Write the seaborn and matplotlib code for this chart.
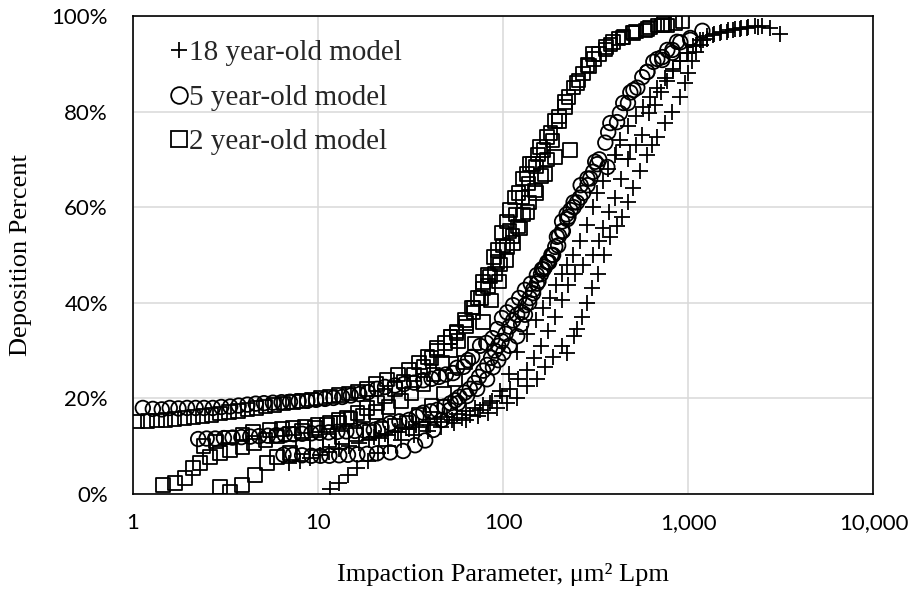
import matplotlib
matplotlib.use("Agg")
import matplotlib.pyplot as plt
import numpy as np
import pandas as pd
import seaborn as sns
from matplotlib.ticker import FuncFormatter, FixedLocator
from matplotlib.lines import Line2D

series_names = ["18 year-old model", "5 year-old model", "2 year-old model"]
x_ticks = [1, 10, 100, 1000, 10000]
y_ticks = [0, 20, 40, 60, 80, 100]

# ---------------- 18 year-old model (+) ----------------
p18_x = [7, 8, 9, 10.2, 11.5, 13, 14.7, 16.6, 18.8, 21.3,
         24, 27, 31, 35, 40, 46, 53, 60, 66, 75,
         85, 96, 107, 119, 134, 150, 165, 179, 194, 208,
         222, 239, 260, 285, 305, 322, 345, 369, 400, 427,
         470, 520, 570, 620, 680, 750, 830, 900, 1000, 1100, 1200,
         20, 23, 26, 30, 34, 39, 44, 50, 56, 63,
         70, 78, 87, 98, 109, 120, 134, 147, 160, 175,
         190, 208, 225, 245, 270, 306, 328, 346, 372, 400,
         435, 472, 520, 564, 610, 660, 710, 770, 830, 900,
         980, 1060, 1150, 1260, 1380, 1500, 1640, 1780, 1930, 2100, 2300, 2500,
         11.6, 13, 14.5, 16.3, 18.5, 21, 24, 28, 33, 39,
         46, 54, 63, 73, 83, 93, 105, 119, 134, 152,
         169, 186, 208, 222, 240, 251, 268, 285, 300, 324,
         350, 379, 410, 438, 470, 505, 550, 600, 640, 680,
         750, 820, 905, 960, 1000, 1050, 1100, 1170, 1261, 1365,
         1489, 1625, 1750, 1910, 2084, 2390, 2775, 3142]
p18_y = [6.5, 7, 7.6, 8.2, 8.8, 9.4, 10, 10.6, 11.2, 11.8,
         12.4, 13, 13.5, 14, 14.5, 15, 15.5, 16, 16.5, 17.5,
         19, 21.5, 25, 29.7, 33.5, 36.5, 39, 41, 43.7, 46,
         48, 50, 53, 56.3, 60, 63, 65.5, 68, 71, 74,
         77, 79, 81, 83, 85, 87, 89, 90.5, 92.3, 94, 95,
         12, 12.6, 13.2, 13.8, 14.4, 15, 15.6, 16.2, 16.8, 17.4,
         18, 18.6, 19.5, 20.5, 22, 24, 26, 28.5, 31, 34,
         37, 40.5, 43.7, 46, 48, 50, 53, 55.6, 59, 62,
         66, 70, 73, 75, 79.7, 81.4, 84, 86.5, 88.5, 90.5,
         92.3, 93.8, 95, 95.8, 96.3, 96.6, 97, 97.3, 97.5, 97.8, 98, 97.9,
         1, 2.3, 4, 5.5, 7, 8.5, 10, 11.3, 12.3, 13.2,
         14, 14.8, 15.5, 16.3, 17, 18, 19, 20, 22.5, 24,
         26.6, 28.7, 31, 29.5, 33, 34.5, 37, 40, 43, 46,
         50, 53.8, 56, 58, 61, 64, 67.5, 71, 73, 74.7,
         77.6, 80, 83, 86, 88, 90.5, 92.5, 94, 95.2, 96,
         96.4, 96.7, 97, 97.2, 97.4, 97.6, 97.5, 96.2]

# ---------------- 5 year-old model (o) ----------------
p5_x = [1.13, 1.28, 1.43, 1.58, 1.76, 1.96, 2.18, 2.42, 2.7, 3.0,
        3.35, 3.72, 4.15, 4.6, 5.1, 5.7, 6.35, 7.05, 7.85, 8.75,
        9.75, 10.9, 12.1, 13.5, 15, 16.7, 18.6, 20.8, 23, 26,
        29, 33, 37, 41, 45, 49, 53.6, 56.3, 61, 64.5,
        68, 75, 81, 87.5, 93, 98.5, 105, 113, 122, 131,
        141, 152, 162, 173, 182, 191, 200, 208, 220, 231,
        250, 270, 295, 322, 356, 412, 472, 530, 600, 647,
        723, 820, 905, 1025, 1191,
        2.25, 2.5, 2.78, 3.1, 3.45, 3.85, 4.3, 4.8, 5.35, 5.95,
        6.6, 7.4, 8.2, 9.2, 10.2, 11.4, 12.7, 14.2, 15.8, 17.7,
        20, 22, 24.5, 27.5, 31, 34, 37, 40.5, 44, 48,
        52, 55, 58, 62, 66, 70, 74, 78, 82, 86,
        90, 94, 98, 103, 108, 113, 119, 126, 132, 139,
        145, 152, 160, 168, 177, 186, 198, 210, 225, 240,
        262, 285, 306, 330, 369, 427, 486, 564, 680, 770, 869,
        6.5, 7.3, 8.2, 9.2, 10.3, 11.5, 13, 14.5, 16.3, 18.4,
        20.8, 24.5, 28.8, 33.4, 37.9, 41.9, 46.7, 51.5, 57, 63.7,
        72.3, 81.8, 88, 94, 100, 108, 119, 125, 131, 138,
        145, 155, 165, 175, 184, 195, 208, 222, 240, 260,
        285, 314, 365, 379, 445, 505, 600, 723, 820, 1025]
p5_y = [18.0, 17.8, 17.7, 18.0, 17.9, 18.0, 18.0, 18.0, 18.0, 18.2,
        18.3, 18.5, 18.7, 18.9, 19.0, 19.1, 19.2, 19.3, 19.4, 19.5,
        19.7, 19.9, 20.1, 20.3, 20.6, 20.9, 21.3, 22.0, 22.4, 22.7,
        23.0, 23.3, 23.8, 24.1, 24.5, 25.0, 25.3, 26.4, 26.6, 28,
        28.7, 31, 31.6, 32.6, 34.5, 36.8, 38, 39.5, 41, 42.7,
        44, 45.8, 47, 48.5, 50, 51.7, 54, 57, 58.5, 59.4,
        61, 63, 66, 69, 73.5, 77.8, 81.8, 85, 88.3, 90.4,
        91.4, 92.9, 94.5, 95.4, 96.9,
        11.5, 11.6, 11.6, 11.7, 11.8, 11.9, 12.0, 12.1, 12.2, 12.3,
        12.4, 12.5, 12.6, 12.7, 12.8, 12.9, 13.0, 13.1, 13.2, 13.3,
        13.4, 14.0, 14.8, 15.2, 15.5, 16.2, 17, 17.3, 17.6, 18.3,
        19, 19.6, 20.3, 21.2, 22, 23.2, 24.5, 25.8, 27, 28.5,
        30, 31, 32, 33.5, 35, 36.3, 37.5, 38, 39.5, 41,
        42.7, 44, 46, 47.5, 48.5, 50, 52, 55, 58, 61,
        64.6, 66, 67.4, 70, 75.7, 79.7, 84, 87.2, 91, 92.9, 94.6,
        8.2, 8.2, 8.1, 8.0, 8.0, 8.0, 8.1, 8.2, 8.3, 8.4,
        8.5, 8.7, 9.0, 10.2, 11.2, 13.4, 15.5, 17.6, 19, 20.5,
        22, 24, 26.5, 28, 29.5, 31, 33, 35.5, 37.5, 40,
        42, 44.5, 47, 48.5, 50, 53.8, 55, 57.5, 60, 62,
        64.6, 69.5, 68.4, 77.6, 81.8, 84.5, 88.3, 90.8, 92.3, 95]

# ---------------- 2 year-old model (square) ----------------
p2_x = [1.05, 1.2, 1.35, 1.5, 1.68, 1.9, 2.12, 2.38, 2.65, 2.95,
        3.3, 3.7, 4.15, 4.65, 5.2, 5.8, 6.5, 7.3, 8.2, 9.2,
        10.3, 11.6, 13, 14.6, 16.4, 18.4, 20.6, 23.5, 27, 31,
        35, 39, 44, 48.6, 52, 56, 62, 68, 73, 78,
        83, 89, 94, 98.5, 105, 109, 116, 121, 128, 134,
        139, 145, 154, 158, 172, 191, 216, 251, 285, 306,
        356, 393, 446, 505, 586, 680, 770, 929,
        1.45, 1.69, 1.91, 2.11, 2.3, 2.61, 2.95, 3.35, 3.9, 4.5,
        5.2, 6, 7, 8.2, 9.6, 11.2, 13, 15, 17.5, 20.5,
        24, 28, 32, 37, 42, 47, 52, 57, 63, 69,
        76, 83, 90, 96, 105, 112, 120, 128, 138, 148,
        160, 172, 185, 200, 216, 240, 270, 310, 360, 420,
        500, 600, 720, 850,
        2.95, 3.35, 3.88, 4.56, 5.3, 6.0, 7.06, 8.3, 9.8, 11.5,
        13.5, 16, 19, 22, 26, 30, 35, 41, 48, 55,
        62, 70, 78, 86, 95, 104, 113, 123, 135, 150,
        168, 190, 230, 445,
        2.4, 2.8, 3.3, 3.9, 4.45, 5.5, 6.4, 7.33, 8.5, 9.9,
        11.6, 12.9, 14.3, 16.3, 18.4, 20.8, 23, 26, 29, 33,
        37, 41, 44, 51.8, 56, 63, 69, 78, 85, 93,
        100, 108, 117, 127, 137, 150, 165, 180, 200, 225,
        255, 290, 330, 380, 440, 520, 620, 740]
p2_y = [15.2, 15.3, 15.4, 15.5, 15.7, 15.9, 16.1, 16.3, 16.5, 16.8,
        17.1, 17.4, 17.7, 18.0, 18.3, 18.6, 18.9, 19.2, 19.5, 19.8,
        20.1, 20.4, 20.7, 21.0, 21.4, 22.0, 23.0, 24.0, 25.0, 26.0,
        27.5, 28.7, 30.5, 31.6, 32.8, 34, 36.4, 39, 41, 44.4,
        45.8, 49.6, 51, 54.6, 57, 59.4, 62, 63, 66, 67,
        69, 69, 71, 72.6, 74.7, 78, 82, 86, 89.7, 92,
        93, 94.6, 95.6, 96.4, 97, 98, 98, 98.8,
        1.9, 2.3, 3.3, 5.4, 6.5, 7.7, 8.6, 9.2, 9.8, 10.7,
        11.3, 12, 12.6, 13.2, 13.8, 14.4, 15, 15.7, 16.4, 17.2,
        18.2, 19.5, 21, 23, 25, 27.4, 30, 32, 35, 38,
        41, 43.5, 46, 48, 51.7, 54, 56, 58.5, 61, 63.5,
        66.5, 70, 74, 78, 81, 85, 88, 91, 93.5, 95.3,
        96.5, 97.3, 98, 98.5,
        1.5, 0.4, 1.9, 4, 6.5, 7.7, 8.6, 9.8, 10.6, 11.2,
        11.8, 12.4, 13, 13.6, 14.3, 15, 16.5, 18.5, 21, 24,
        27.5, 31.5, 36, 40.5, 44.5, 49, 52.5, 55.5, 59, 63,
        67, 70.5, 72, 71.5,
        10, 11, 11.8, 12.4, 13, 13.4, 13.6, 13.8, 14.1, 14.4,
        15, 15.5, 16, 17, 18, 19, 20.5, 22, 23.5, 25,
        26.6, 28.5, 30, 32.8, 33.7, 35.8, 39, 43, 45.5, 48.5,
        52, 55, 58.5, 62, 65, 68.5, 72, 75.5, 79, 83,
        86.5, 89.5, 92, 94, 95.5, 96.8, 97.6, 98.3]

df = pd.concat([
    pd.DataFrame({"x": p18_x, "y": p18_y, "series": series_names[0]}),
    pd.DataFrame({"x": p5_x, "y": p5_y, "series": series_names[1]}),
    pd.DataFrame({"x": p2_x, "y": p2_y, "series": series_names[2]}),
], ignore_index=True)

sns.set_theme(style="white")
plt.rcParams['font.family'] = ['Lato', 'DejaVu Sans']

fig = plt.figure(figsize=(9.09, 5.99), dpi=100)
ax = fig.add_axes([0.1463, 0.1753, 0.8146, 0.798])

lw = 1.3
sns.scatterplot(data=df[df.series == series_names[0]], x="x", y="y",
                marker="+", s=120, color="black", linewidth=lw, ax=ax,
                legend=False, zorder=3)
sns.scatterplot(data=df[df.series == series_names[1]], x="x", y="y",
                marker="o", s=110, facecolor="none", edgecolor="black",
                linewidth=lw, ax=ax, legend=False, zorder=3)
sns.scatterplot(data=df[df.series == series_names[2]], x="x", y="y",
                marker="s", s=95, facecolor="none", edgecolor="black",
                linewidth=lw, ax=ax, legend=False, zorder=3)

ax.set_xscale("log")
ax.set_xlim(1, 10000)
ax.set_ylim(0, 100)
ax.xaxis.set_major_locator(FixedLocator(x_ticks))
ax.xaxis.set_minor_locator(FixedLocator([]))
ax.yaxis.set_major_locator(FixedLocator(y_ticks))
ax.xaxis.set_major_formatter(FuncFormatter(lambda v, p: f"{v:,.0f}"))
ax.yaxis.set_major_formatter(FuncFormatter(lambda v, p: f"{v:.0f}%"))
ax.grid(True, which="major", color="#d9d9d9", linewidth=1.1, zorder=0)
ax.set_axisbelow(True)
for sp in ax.spines.values():
    sp.set_visible(True)
    sp.set_color("black")
    sp.set_linewidth(1.2)
ax.tick_params(axis="both", which="both", length=0, labelsize=16,
               colors="black")
ax.tick_params(axis="x", pad=14)
ax.tick_params(axis="y", pad=18)

serif = ["Liberation Serif", "DejaVu Serif"]
ax.set_xlabel("Impaction Parameter, μm² Lpm", fontsize=19, family=serif,
              labelpad=21, color="black")
ax.set_ylabel("Deposition Percent", fontsize=19, family=serif,
              labelpad=14, color="black")

handles = [
    Line2D([], [], marker="+", linestyle="none", color="black",
           markersize=12, markeredgewidth=lw),
    Line2D([], [], marker="o", linestyle="none", markerfacecolor="none",
           markeredgecolor="black", markersize=12, markeredgewidth=lw),
    Line2D([], [], marker="s", linestyle="none", markerfacecolor="none",
           markeredgecolor="black", markersize=12, markeredgewidth=lw),
]
ax.legend(handles, series_names, loc="upper left",
          bbox_to_anchor=(0.05, 0.95), frameon=False,
          prop={"family": serif, "size": 21}, handlelength=0.6,
          handletextpad=0.05, labelspacing=0.62, borderpad=0,
          borderaxespad=0)

fig.savefig("out.png", dpi=100)
